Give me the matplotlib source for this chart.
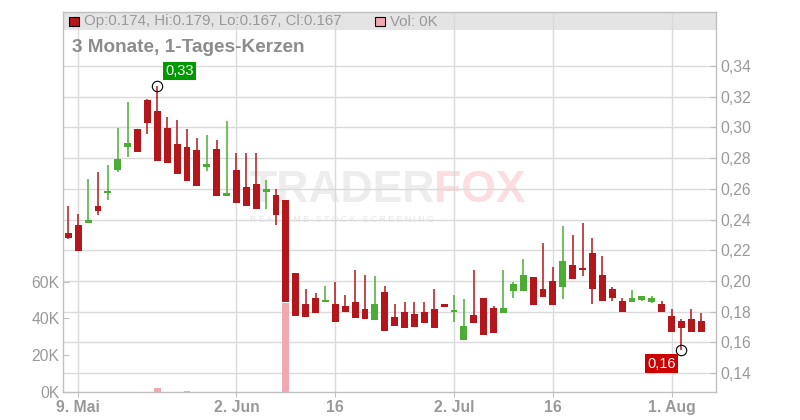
import matplotlib.pyplot as plt
import matplotlib.ticker as mtick
from matplotlib.patches import Rectangle
import numpy as np
import pandas as pd

plt.rcParams['font.family'] = ['Liberation Sans', 'DejaVu Sans']

# == data, 1-day candles 8 May - 6 Aug 2025
dates = pd.bdate_range('2025-05-08', '2025-08-06')

opens = [0.2310, 0.2366, 0.2375, 0.2489, 0.2576, 0.2725, 0.2874, 0.2988, 0.3176, 0.3105,
         0.2995, 0.2892, 0.2873, 0.2853, 0.2745, 0.2860, 0.2551, 0.2724, 0.2613, 0.2633,
         0.2577, 0.2562, 0.2529, 0.2051, 0.1847, 0.1891, 0.1862, 0.1853, 0.1834, 0.1866,
         0.1815, 0.1747, 0.1930, 0.1764, 0.1796, 0.1783, 0.1796, 0.1815, 0.1847, 0.1799,
         0.1618, 0.1777, 0.1891, 0.1821, 0.1791, 0.1938, 0.1938, 0.2023, 0.1945, 0.1997,
         0.1960, 0.2101, 0.2086, 0.2185, 0.2042, 0.1951, 0.1870, 0.1860, 0.1879, 0.1866,
         0.1851, 0.1773, 0.1741, 0.1754, 0.1741]
highs = [0.2490, 0.2437, 0.2664, 0.2710, 0.2755, 0.2995, 0.3163, 0.2988, 0.3183, 0.3270,
         0.3066, 0.3048, 0.2989, 0.2931, 0.2950, 0.2918, 0.3041, 0.2834, 0.2834, 0.2834,
         0.2659, 0.2600, 0.2529, 0.2051, 0.1949, 0.1923, 0.1968, 0.1994, 0.1911, 0.2070,
         0.2038, 0.2032, 0.1968, 0.1853, 0.1866, 0.1866, 0.1866, 0.1949, 0.1847, 0.1911,
         0.1885, 0.2070, 0.1891, 0.1834, 0.2070, 0.1994, 0.2140, 0.2023, 0.2250, 0.2094,
         0.2355, 0.2302, 0.2380, 0.2283, 0.2166, 0.1964, 0.1888, 0.1942, 0.1903, 0.1903,
         0.1870, 0.1818, 0.1754, 0.1818, 0.1792]
lows = [0.2275, 0.2193, 0.2375, 0.2433, 0.2528, 0.2712, 0.2809, 0.2841, 0.2956, 0.2783,
        0.2770, 0.2700, 0.2654, 0.2616, 0.2719, 0.2551, 0.2551, 0.2505, 0.2486, 0.2466,
        0.2466, 0.2367, 0.1860, 0.1772, 0.1766, 0.1791, 0.1862, 0.1734, 0.1798, 0.1760,
        0.1753, 0.1747, 0.1677, 0.1708, 0.1696, 0.1702, 0.1728, 0.1696, 0.1830, 0.1734,
        0.1618, 0.1728, 0.1651, 0.1664, 0.1791, 0.1887, 0.1938, 0.1843, 0.1895, 0.1843,
        0.1882, 0.2010, 0.2030, 0.1850, 0.1869, 0.1869, 0.1795, 0.1860, 0.1868, 0.1859,
        0.1795, 0.1665, 0.1553, 0.1665, 0.1665]
closes = [0.2277, 0.2193, 0.2398, 0.2453, 0.2580, 0.2794, 0.2898, 0.2841, 0.3029, 0.2783,
          0.2770, 0.2700, 0.2654, 0.2616, 0.2762, 0.2551, 0.2574, 0.2505, 0.2486, 0.2466,
          0.2600, 0.2428, 0.1860, 0.1772, 0.1766, 0.1791, 0.1866, 0.1734, 0.1798, 0.1760,
          0.1753, 0.1847, 0.1677, 0.1708, 0.1696, 0.1702, 0.1728, 0.1696, 0.1830, 0.1801,
          0.1706, 0.1728, 0.1651, 0.1664, 0.1821, 0.1981, 0.2038, 0.1843, 0.1895, 0.1843,
          0.2133, 0.2010, 0.2071, 0.1947, 0.1869, 0.1889, 0.1795, 0.1890, 0.1903, 0.1890,
          0.1795, 0.1665, 0.1691, 0.1665, 0.1665]
volumes = np.zeros(len(dates))
volumes[9] = 2200
volumes[12] = 800
volumes[22] = 48600

tick_dates = ['2025-05-09', '2025-06-02', '2025-06-16', '2025-07-02', '2025-07-16', '2025-08-01']
tick_labels = ['9. Mai', '2. Jun', '16', '2. Jul', '16', '1. Aug']
price_ticks = [0.14, 0.16, 0.18, 0.20, 0.22, 0.24, 0.26, 0.28, 0.30, 0.32, 0.34]
vol_ticks = [0, 20000, 40000, 60000]

# colours
red = '#b3171b'
green = '#4cad35'
pink = '#f0a9b1'
grey_txt = '#999999'
grid_c = '#dadada'
axis_c = '#c0c0c0'


def de(v):
    # german decimal comma
    return ('%.2f' % v).replace('.', ',')


fig = plt.figure(figsize=(8, 4.2), dpi=100)
ax = fig.add_axes([63/800, 28/420, 653/800, 380/420])
axv = ax.twinx()   # volume axis, drawn on top
x = np.arange(len(dates))

ax.set_xlim(-0.54, 65.49)
ax.set_ylim(0.1277, 0.3752)

# candles
bw = 0.7
for i in x:
    o, h, l, c = opens[i], highs[i], lows[i], closes[i]
    col = green if c >= o else red
    ax.vlines(i, l, h, color=col, lw=1.1, zorder=2)
    bot = min(o, c)
    hgt = max(abs(c - o), 0.0013)
    ax.add_patch(Rectangle((i - bw/2, bot), bw, hgt, facecolor=col, edgecolor='none', zorder=3))

# high / low markers
ih = int(np.argmax(highs))
il = int(np.argmin(lows))
ax.plot(ih, highs[ih], 'o', mfc='none', mec='black', ms=7.5, mew=0.8, zorder=4)
ax.plot(il, lows[il], 'o', mfc='none', mec='black', ms=7.5, mew=0.8, zorder=4)
ax.annotate(de(highs[ih]), (ih, highs[ih]), xytext=(16, 11), textcoords='offset points',
            ha='center', va='center', color='white', fontsize=10.5,
            bbox=dict(boxstyle='square,pad=0.15', fc='#009a00', ec='none'), zorder=5)
ax.annotate(de(lows[il]), (il, lows[il]), xytext=(-14.5, -10),
            textcoords='offset points', ha='center', va='center', color='white', fontsize=10.5,
            bbox=dict(boxstyle='square,pad=0.15', fc='#cc0000', ec='none'), zorder=5)

# grid + axes
ax.set_axisbelow(True)
ax.set_yticks(price_ticks)
ax.yaxis.set_major_formatter(mtick.FuncFormatter(lambda v, p: de(v)))
tpos = [dates.get_loc(pd.Timestamp(d)) for d in tick_dates]
ax.set_xticks(tpos)
ax.set_xticklabels(tick_labels, fontweight='bold')
ax.grid(True, color=grid_c, lw=1)
ax.tick_params(axis='y', which='both', direction='in', length=4, color=axis_c,
               labelcolor=grey_txt, labelsize=11.3, pad=3,
               left=False, labelleft=False, right=True, labelright=True)
ax.tick_params(axis='x', direction='out', length=3.5, color=axis_c,
               labelcolor=grey_txt, labelsize=11.3, pad=2.5)
for s in ax.spines.values():
    s.set_color(axis_c)
    s.set_linewidth(1)

# legend bar on top of the plot
ax.add_patch(Rectangle((0, (392-30)/380), 1, 18/380, transform=ax.transAxes,
                       facecolor='#e4e4e4', edgecolor='none', zorder=0.2))
ax.add_patch(Rectangle((5.5/653, (392-26)/380), 10/653, 9/380, transform=ax.transAxes,
                       facecolor=red, edgecolor='black', lw=0.8, zorder=5))
ax.text(21/653, (392-21.5)/380, 'Op:%.3f, Hi:%.3f, Lo:%.3f, Cl:%.3f' % (opens[-1], highs[-1], lows[-1], closes[-1]),
        transform=ax.transAxes, va='center', ha='left', color=grey_txt, fontsize=10.8, zorder=5)
ax.add_patch(Rectangle((311.5/653, (392-26)/380), 10/653, 9/380, transform=ax.transAxes,
                       facecolor=pink, edgecolor='black', lw=0.8, zorder=5))
ax.text(327/653, (392-21.5)/380, 'Vol: %dK' % (volumes[-1] / 1000),
        transform=ax.transAxes, va='center', ha='left', color=grey_txt, fontsize=10.8, zorder=5)

# title
ax.text(9/653, (392-47)/380, '3 Monate, 1-Tages-Kerzen', transform=ax.transAxes,
        va='center', ha='left', color='#8c8c8c', fontsize=13.7, fontweight='bold', zorder=5)

# watermark
ax.text(186/653, (392-191)/380, 'TRADER', transform=ax.transAxes, va='center', ha='left',
        color='#ededed', fontsize=32, fontweight='bold', zorder=0.3)
ax.text(371/653, (392-191)/380, 'FOX', transform=ax.transAxes, va='center', ha='left',
        color='#fcdde1', fontsize=32, fontweight='bold', zorder=0.3)
ax.text(187/653, (392-219)/380, 'R E A L T I M E   S T O C K   S C R E E N I N G', transform=ax.transAxes,
        va='center', ha='left', color='#e6e6e6', fontsize=6.3, zorder=0.3)

# volume bars, labels on the left
axv.set_ylim(0, 206700)
axv.bar(x, volumes, width=bw, color=pink, zorder=3)
axv.set_yticks(vol_ticks)
axv.yaxis.set_major_formatter(mtick.FuncFormatter(lambda v, p: '%dK' % (v / 1000)))
axv.tick_params(axis='y', direction='in', length=4, color=axis_c,
                labelcolor=grey_txt, labelsize=11.3, pad=2.5,
                left=True, labelleft=True, right=False, labelright=False)
for s in axv.spines.values():
    s.set_visible(False)

fig.savefig('out.png', dpi=100)
